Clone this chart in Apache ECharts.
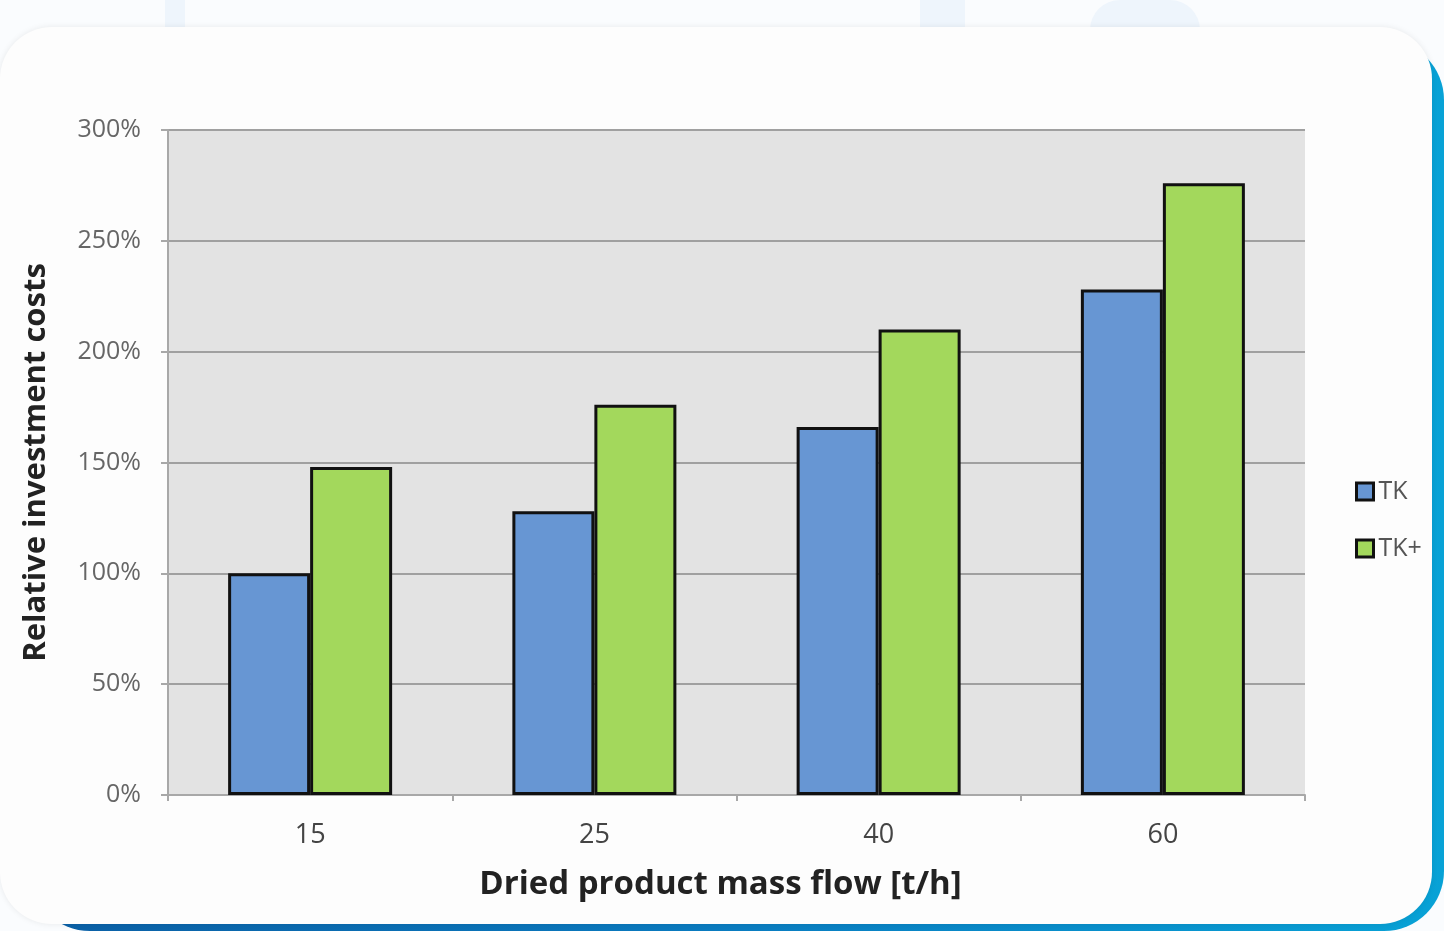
<!DOCTYPE html>
<html>
<head>
<meta charset="utf-8">
<script src="https://cdn.jsdelivr.net/npm/echarts@6/dist/echarts.min.js"></script>
<style>
  html, body { margin:0; padding:0; width:1444px; height:931px; overflow:hidden; background:#fafcfe; }
  .deco { position:absolute; background:#eef5fc; }
  #back { position:absolute; left:30px; top:40px; width:1414px; height:891px; border-radius:60px;
          background:linear-gradient(90deg,#0b5fa5 0%,#0a7cc0 50%,#08a2d6 100%); }
  #card { position:absolute; left:0px; top:27px; width:1432px; height:897px; border-radius:52px; background:#fdfdfd;
          box-shadow: 0 0 6px rgba(0,0,0,0.08); }
  #chart { position:absolute; left:0; top:0; width:1444px; height:931px; }
</style>
</head>
<body>
<div class="deco" style="left:165px;top:0;width:20px;height:30px;"></div>
<div class="deco" style="left:920px;top:0;width:45px;height:30px;"></div>
<div class="deco" style="left:1090px;top:0;width:110px;height:30px;border-radius:60px 60px 0 0;"></div>
<div id="back"></div>
<div id="card"></div>
<div id="chart"></div>
<script>
const categories = ['15', '25', '40', '60'];
const tkValues = [100, 128, 166, 228];
const tkPlusValues = [148, 176, 210, 276];
const seriesNames = ['TK', 'TK+'];

const chart = echarts.init(document.getElementById('chart'));
const FONT = 'Open Sans';
chart.setOption({
  backgroundColor: 'transparent',
  animation: false,
  grid: { left: 168, right: 139, top: 130, bottom: 136, show: true, backgroundColor: '#e3e3e3', borderWidth: 0 },
  legend: {
    orient: 'vertical', left: 1350, top: 474, itemGap: 32, itemWidth: 17, itemHeight: 17,
    textStyle: { fontFamily: FONT, fontSize: 25, color: '#555', padding: [0,0,0,0] },
    data: seriesNames.map(n => ({ name: n, icon: 'rect', itemStyle: { borderColor: '#111', borderWidth: 3 } }))
  },
  xAxis: {
    type: 'category', data: categories,
    name: 'Dried product mass flow [t/h]', nameLocation: 'middle', nameGap: 73,
    nameTextStyle: { fontFamily: FONT, fontSize: 33, fontWeight: 'bold', color: '#222', padding: [0, 32, 0, 0] },
    axisLine: { lineStyle: { color: '#a8a8a8', width: 2 } },
    axisTick: { show: true, length: 6, lineStyle: { color: '#a8a8a8', width: 2 } },
    axisLabel: { fontFamily: FONT, fontSize: 27, color: '#444', margin: 27 }
  },
  yAxis: {
    type: 'value', min: 0, max: 300, interval: 50,
    name: 'Relative investment costs', nameLocation: 'middle', nameGap: 116,
    nameTextStyle: { fontFamily: FONT, fontSize: 31, fontWeight: 'bold', color: '#222' },
    axisLine: { show: true, lineStyle: { color: '#a8a8a8', width: 2 } },
    axisTick: { show: true, length: 7, lineStyle: { color: '#a8a8a8', width: 2 } },
    axisLabel: { fontFamily: FONT, fontSize: 25, color: '#666', margin: 27, formatter: '{value}%' },
    splitLine: { lineStyle: { color: '#a0a0a0', width: 2 } }
  },
  series: [
    { name: seriesNames[0], type: 'bar', data: tkValues, barWidth: 82, barGap: '0%',
      itemStyle: { color: '#6796d3', borderColor: '#111', borderWidth: 3 } },
    { name: seriesNames[1], type: 'bar', data: tkPlusValues, barWidth: 82, barGap: '0%',
      itemStyle: { color: '#a3d85c', borderColor: '#111', borderWidth: 3 } }
  ]
});
</script>
</body>
</html>
